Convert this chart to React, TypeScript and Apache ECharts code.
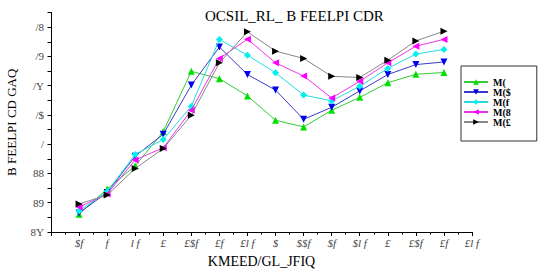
import React, { useEffect, useRef } from "react";
import * as echarts from "echarts";

const xLabels = ["$f", "f", "l f", "£", "£$f", "£f", "£l f", "$", "$$f", "$f", "$l f", "£", "£$f", "£f", "£l f"];
const yLabels = ["8Y", "89", "88", "/", "/$", "/Y", "/9", "/8"];
const xPositions = [1, 2, 3, 4, 5, 6, 7, 8, 9, 10, 11, 12, 13, 14];
const seriesNames = ["M(", "M($", "M(f", "M(8", "M(£"];
const greenVals = [0.61, 1.47, 2.26, 3.43, 5.49, 5.24, 4.65, 3.82, 3.59, 4.16, 4.6, 5.1, 5.39, 5.45];
const blueVals = [0.65, 1.35, 2.59, 3.34, 5.02, 6.32, 5.38, 4.85, 3.85, 4.26, 4.82, 5.38, 5.72, 5.81];
const cyanVals = [0.72, 1.38, 2.65, 3.16, 4.3, 6.58, 6.04, 5.44, 4.68, 4.48, 4.98, 5.59, 6.08, 6.24];
const magentaVals = [0.85, 1.3, 2.46, 2.88, 4.16, 5.93, 6.59, 5.78, 5.33, 4.58, 5.15, 5.78, 6.35, 6.58];
const blackVals = [0.96, 1.26, 2.17, 2.85, 3.99, 5.78, 6.84, 6.18, 5.93, 5.32, 5.28, 5.87, 6.53, 6.86];
const titleText = "OCSIL_RL_ B FEELPI CDR";
const xName = "KMEED/GL_JFIQ";
const yName = "B FEELPI CD GAQ";

const FONT = "Liberation Serif";

export default function App() {
  const ref = useRef<HTMLDivElement>(null);
  useEffect(() => {
    if (!ref.current) return;
    const chart = echarts.init(ref.current, null, { renderer: "svg" });
    const styles = [
      { vals: greenVals, marker: "#00e000", line: "#33cc33", symbol: "triangle", rot: 0 },
      { vals: blueVals, marker: "#0000ee", line: "#3a3acc", symbol: "triangle", rot: 180 },
      { vals: cyanVals, marker: "#00f0f0", line: "#22dddd", symbol: "diamond", rot: 0 },
      { vals: magentaVals, marker: "#ff00ff", line: "#ee33ee", symbol: "triangle", rot: 90 },
      { vals: blackVals, marker: "#000000", line: "#888888", symbol: "triangle", rot: -90 },
    ];
    chart.setOption({
      animation: false,
      backgroundColor: "#ffffff",
      title: {
        text: titleText,
        left: 200,
        top: 3,
        textStyle: { fontFamily: FONT, fontSize: 15, fontWeight: "normal", color: "#000" },
      },
      legend: {
        orient: "vertical",
        left: 461,
        top: 66,
        width: 75,
        itemWidth: 24,
        itemHeight: 7,
        itemGap: 0,
        padding: [11, 26, 14, 2],
        borderColor: "#333",
        borderWidth: 1,
        borderRadius: 0,
        textStyle: { fontFamily: FONT, fontSize: 10, lineHeight: 10, color: "#000", fontWeight: "bold" },
        data: seriesNames,
      },
      grid: { left: 51, right: 72, top: 12.5, bottom: 38, containLabel: false, outerBoundsMode: "none" },
      xAxis: {
        type: "value",
        min: 0,
        max: 15,
        interval: 1,
        name: xName,
        nameLocation: "middle",
        nameGap: 22,
        nameTextStyle: { fontFamily: FONT, fontSize: 14, color: "#000" },
        axisLine: { lineStyle: { color: "#000", width: 1 } },
        axisTick: { show: true, length: 4, inside: false, lineStyle: { color: "#000" } },
        minorTick: { show: true, splitNumber: 2, length: 2.5, lineStyle: { color: "#000" } },
        splitLine: { show: false },
        axisLabel: {
          margin: 5,
          fontFamily: FONT,
          fontSize: 11,
          fontStyle: "italic",
          color: "#444",
          formatter: (v: number) => (v >= 1 && Number.isInteger(v) ? xLabels[v - 1] : ""),
        },
      },
      yAxis: {
        type: "value",
        min: 0,
        max: 7.5,
        interval: 0.5,
        name: yName,
        nameLocation: "middle",
        nameGap: 33,
        nameRotate: 90,
        nameTextStyle: { fontFamily: FONT, fontSize: 13, color: "#000" },
        axisLine: { show: true, lineStyle: { color: "#000", width: 1 } },
        axisTick: { show: true, length: 3.5, inside: false, lineStyle: { color: "#000" } },
        splitLine: { show: false },
        axisLabel: {
          margin: 7,
          fontFamily: FONT,
          fontSize: 11,
          color: "#444",
          formatter: (v: number) => (Number.isInteger(v) ? yLabels[v] : ""),
        },
      },
      series: styles.map((s, i) => ({
        name: seriesNames[i],
        type: "line",
        data: xPositions.map((x, j) => [x, s.vals[j]]),
        symbol: s.symbol,
        symbolSize: 7,
        symbolRotate: s.rot,
        lineStyle: { color: s.line, width: 1 },
        itemStyle: { color: s.marker },
        z: 2 + i,
      })),
    });
    return () => chart.dispose();
  }, []);
  return <div ref={ref} style={{ position: "fixed", left: 0, top: 0, width: 544, height: 270 }} />;
}
